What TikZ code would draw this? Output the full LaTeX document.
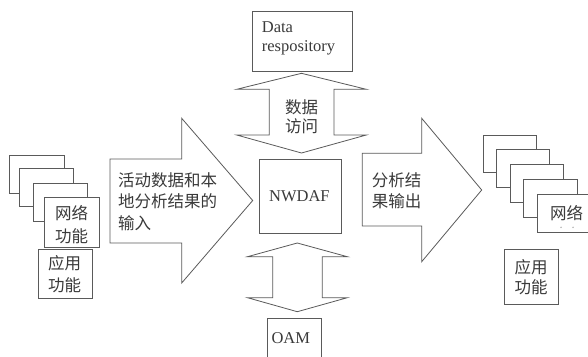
\documentclass[tikz,border=0pt]{standalone}
\usepackage{fontspec}
\setmainfont{Liberation Serif}
\newfontfamily\cjk{Noto Sans CJK SC}
\definecolor{linec}{HTML}{5A5A5A}
\definecolor{textc}{HTML}{3A3A3A}
\begin{document}
\begin{tikzpicture}[x=1pt,y=-1pt,
  blockarrow/.style={draw=linec, line width=0.8pt, fill=white, line join=miter},
  box/.style={draw=linec, line width=0.8pt, fill=white, inner sep=0pt, anchor=north west},
  cjkt/.style={text=textc, font=\cjk\fontsize{16.5}{21.5}\selectfont, inner sep=0pt, align=left},
  ent/.style={text=textc, font=\fontsize{16.5}{19.4}\selectfont, inner sep=0pt, align=left}]
\useasboundingbox (0,0) rectangle (588,356);
\clip (0,0) rectangle (588,356);

% block arrows
\draw[blockarrow] (110,159) -- (181.7,159) -- (181.7,118.3) -- (252.7,200.5) -- (181.7,283) -- (181.7,243) -- (110,243) -- cycle;
\draw[blockarrow] (362.3,153.3) -- (421.7,153.3) -- (421.7,118.3) -- (481.7,190) -- (421.7,261.7) -- (421.7,226) -- (362.3,226) -- cycle;
\draw[blockarrow] (301.5,73.3) -- (366.3,89.3) -- (334,89.3) -- (334,135) -- (366.3,135) -- (301.5,153) -- (236.7,135) -- (269.3,135) -- (269.3,89.3) -- (236.7,89.3) -- cycle;
\draw[blockarrow] (297.3,243) -- (347.3,256.7) -- (322.2,256.7) -- (322.2,297.7) -- (347.3,297.7) -- (297.3,311.7) -- (247.5,297.7) -- (272.7,297.7) -- (272.7,256.7) -- (247.5,256.7) -- cycle;

% arrow texts
\node[cjkt, anchor=west] (intext) at (118,201.5) {活动数据和本\\地分析结果的\\输入};
\node[cjkt, anchor=west] (outtext) at (371.7,190.5) {分析结\\果输出};
\node[cjkt, align=center, font=\cjk\fontsize{16.5}{19.3}\selectfont] (acctext) at (301.7,117) {数据\\访问};

% left stack
\node[box, minimum width=55pt, minimum height=37.7pt] (l1) at (9.3,155) {};
\node[box, minimum width=53.7pt, minimum height=37.7pt] (l2) at (19,168.3) {};
\node[box, minimum width=54pt, minimum height=38pt] (l3) at (33.3,182.7) {};
\node[box, minimum width=54.7pt, minimum height=50pt] (l4) at (44.3,196.7) {};
\node[cjkt, align=center, font=\cjk\fontsize{16.5}{22.5}\selectfont] (l4t) at (71.7,224.7) {网络\\功能};
\node[box, minimum width=54pt, minimum height=49pt] (la) at (37.7,249.3) {};
\node[cjkt, align=center, font=\cjk\fontsize{16.5}{21.7}\selectfont] (lat) at (64.7,274.2) {应用\\功能};

% right stack
\node[box, minimum width=53pt, minimum height=37.3pt] (r1) at (482.7,135) {};
\node[box, minimum width=53.3pt, minimum height=38pt] (r2) at (496,149.3) {};
\node[box, minimum width=53.3pt, minimum height=38pt] (r3) at (510,164.3) {};
\node[box, minimum width=54pt, minimum height=38pt] (r4) at (523.3,179.3) {};
\node[box, minimum width=55pt, minimum height=37.7pt] (r5) at (537.3,194) {};
\node[cjkt, align=center] (r5t) at (566.7,213.3) {网络};
\fill[linec!50] (561,227.3) circle (0.8) (573,227.3) circle (0.8);
\node[box, minimum width=54.3pt, minimum height=54.7pt] (ra) at (504,249.3) {};
\node[cjkt, align=center, font=\cjk\fontsize{16.5}{20}\selectfont] (rat) at (531.2,276.7) {应用\\功能};

% centre column
\node[box, minimum width=100pt, minimum height=60pt] (repo) at (252,11) {};
\node[ent, anchor=west] (repot) at (261.7,38.5) {Data\\respository};
\node[box, minimum width=82.2pt, minimum height=74.3pt] (nwdaf) at (258.5,159) {};
\node[ent] (nwdaft) at (299.4,196.5) {NWDAF};
\node[box, minimum width=54pt, minimum height=46pt] (oam) at (266.7,318.3) {};
\node[ent] (oamt) at (290.8,338.5) {OAM};
\end{tikzpicture}
\end{document}
